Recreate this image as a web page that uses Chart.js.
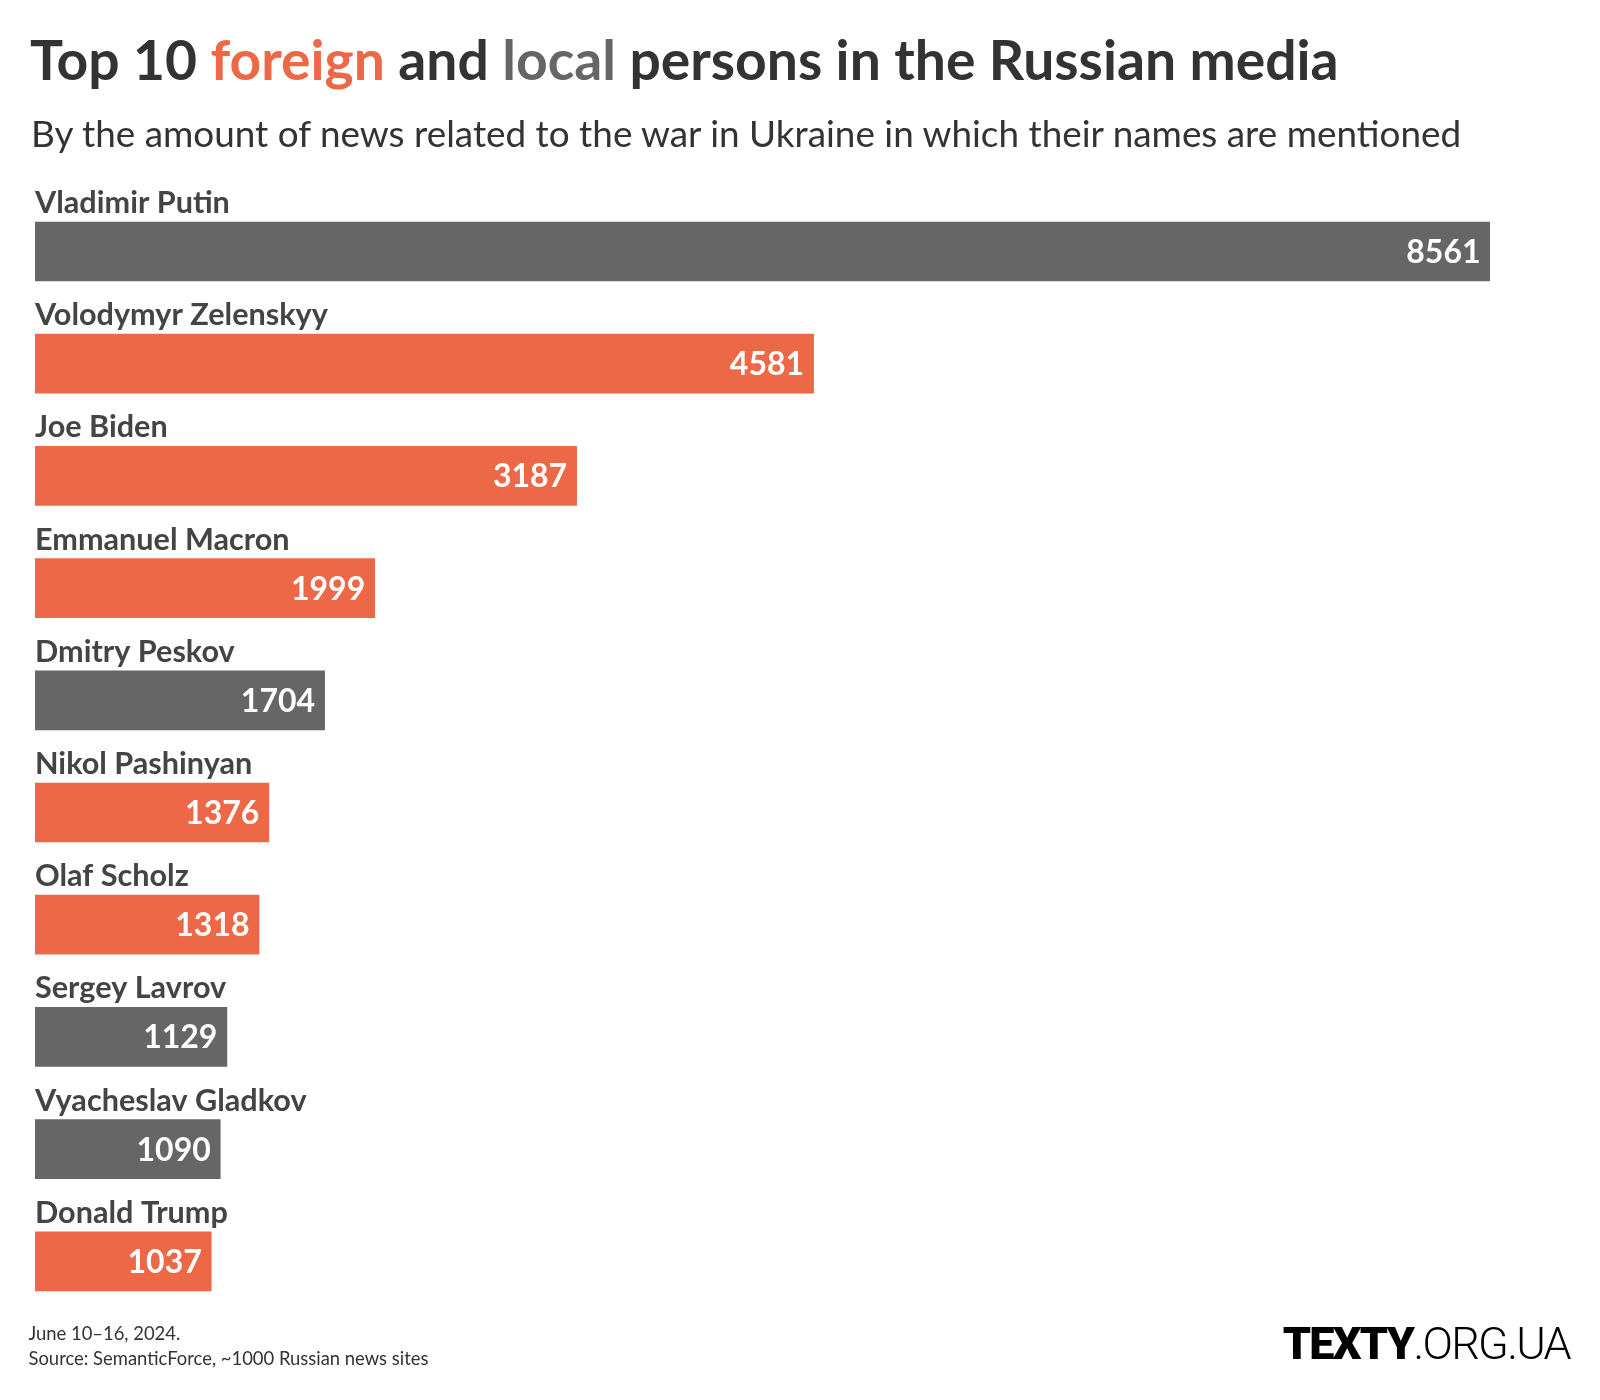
<!DOCTYPE html>
<html><head><meta charset="utf-8">
<script src="https://cdn.jsdelivr.net/npm/chart.js@4.4.1/dist/chart.umd.min.js"></script>
<style>
html,body{margin:0;padding:0;background:#fff;}
#wrap{position:relative;width:1600px;height:1400px;overflow:hidden;background:#fff;}
#c{position:absolute;left:0;top:0;width:1600px;height:1400px;}
.t{position:absolute;white-space:nowrap;margin:0;padding:0;}
</style></head><body>
<div id="wrap">
<canvas id="c" width="1600" height="1400"></canvas>
<div id="title" class="t" style="color:#333">Top 10 <span style="color:#ED6847">foreign</span> and <span style="color:#666666">local</span> persons in the Russian media</div>
<div id="subtitle" class="t" style="color:#333">By the amount of news related to the war in Ukraine in which their names are mentioned</div>
<div id="foot1" class="t" style="color:#333">June 10–16, 2024.</div>
<div id="foot2" class="t" style="color:#333">Source: SemanticForce, ~1000 Russian news sites</div>
<div id="logo" class="t" style="color:#000"><span id="logoA" style="font-weight:900">TEXTY</span><span id="logoB" style="font-weight:300">.ORG.UA</span></div>
</div>
<script>
// ---- data ----
const persons = ["Vladimir Putin","Volodymyr Zelenskyy","Joe Biden","Emmanuel Macron","Dmitry Peskov","Nikol Pashinyan","Olaf Scholz","Sergey Lavrov","Vyacheslav Gladkov","Donald Trump"];
const mentions = [8561,4581,3187,1999,1704,1376,1318,1129,1090,1037];
const origin = ["local","foreign","foreign","foreign","local","foreign","foreign","local","local","foreign"];
const originColors = {foreign:"#ED6847", local:"#666666"};

const mctx = document.createElement('canvas').getContext('2d');
function measure(weight, size, family, text){
  mctx.font = `${weight} ${size}px ${family}`;
  return mctx.measureText(text);
}
function fitSize(weight, family, text, target){
  return 100 * target / measure(weight,100,family,text).width;
}
function place(el, weight, size, family, x, baseline){
  const m = measure(weight,size,family,el.textContent);
  const asc = m.fontBoundingBoxAscent, desc = m.fontBoundingBoxDescent;
  el.style.fontFamily = family; el.style.fontWeight = weight; el.style.fontSize = size+'px';
  el.style.lineHeight = (asc+desc)+'px';
  el.style.left = x+'px';
  el.style.top = (baseline-asc)+'px';
}

function build(){
  const F = "Lato";
  const tEl = document.getElementById('title');
  const ts = fitSize(700,F,tEl.textContent,1309);
  place(tEl,700,ts,F,30,80);
  const sEl = document.getElementById('subtitle');
  const ss = fitSize(400,F,sEl.textContent,1435);
  place(sEl,400,ss,F,31,146.5);
  const f2 = document.getElementById('foot2');
  const fs = fitSize(400,F,f2.textContent,400);
  place(document.getElementById('foot1'),400,fs,F,28.5,1340);
  place(f2,400,fs,F,28.5,1365);
  // logo
  const L = "Roboto", lsize = 45;
  const wa = measure(900,lsize,L,"TEXTY").width, wb = measure(300,lsize,L,".ORG.UA").width;
  const ls = (289 - wa - wb)/11;
  const lg = document.getElementById('logo');
  lg.style.letterSpacing = ls+'px';
  const m = measure(900,lsize,L,"TEXTY");
  lg.style.fontFamily = L; lg.style.fontSize = lsize+'px';
  lg.style.lineHeight = (m.fontBoundingBoxAscent+m.fontBoundingBoxDescent)+'px';
  lg.style.left = '1282.7px';
  lg.style.top = (1358.8 - m.fontBoundingBoxAscent)+'px';

  const nameSize = fitSize(700,F,"Volodymyr Zelenskyy",293);
  const valSize = 32;

  const labelPlugin = {
    id:'labels',
    afterDatasetsDraw(chart){
      const ctx = chart.ctx;
      const meta = chart.getDatasetMeta(0);
      ctx.save();
      meta.data.forEach((bar,i)=>{
        const top = bar.y - bar.height/2;
        ctx.font = `700 ${nameSize}px ${F}`;
        ctx.fillStyle = '#444444';
        ctx.textAlign = 'left';
        ctx.textBaseline = 'alphabetic';
        ctx.fillText(chart.data.labels[i], bar.base, top - 9);
        ctx.font = `700 ${valSize}px ${F}`;
        ctx.fillStyle = '#ffffff';
        ctx.textAlign = 'right';
        ctx.fillText(String(chart.data.datasets[0].data[i]), bar.x - 9.5, bar.y + 11.5);
      });
      ctx.restore();
    }
  };

  new Chart(document.getElementById('c'),{
    type:'bar',
    data:{
      labels: persons,
      datasets:[{
        data: mentions,
        backgroundColor: origin.map(o=>originColors[o]),
        borderWidth:0,
        barThickness:59
      }]
    },
    options:{
      indexAxis:'y',
      responsive:false,
      animation:false,
      layout:{padding:{left:35,right:110,top:195.4,bottom:82.6}},
      plugins:{legend:{display:false},tooltip:{enabled:false},title:{display:false}},
      scales:{
        x:{display:false,min:0,max:Math.max(...mentions)},
        y:{display:false}
      }
    },
    plugins:[labelPlugin]
  });
}
Promise.all([
  document.fonts.load('700 20px Lato'),
  document.fonts.load('400 20px Lato'),
  document.fonts.load('900 20px Roboto'),
  document.fonts.load('300 20px Roboto')
]).then(build, build);
</script>
</body></html>
